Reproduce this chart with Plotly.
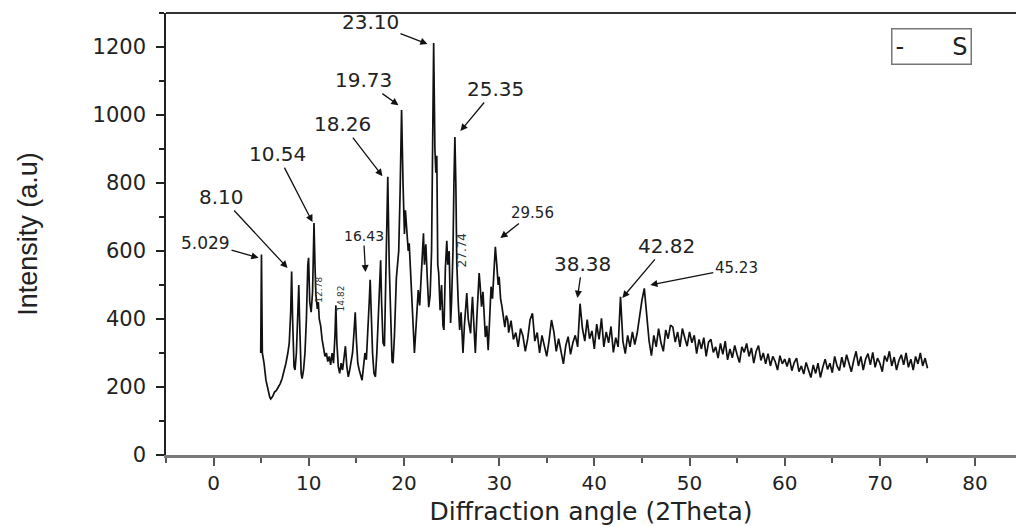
import plotly.graph_objects as go

# ---- data: peak-rich region (hand read, non-uniform angles) ----
angle_a = [4.95, 5.03, 5.12, 5.3, 5.5, 5.7, 5.9, 6.0, 6.2, 6.4, 6.6, 6.8, 7.0, 7.2, 7.4, 7.6, 7.8, 7.95,
           8.1, 8.2, 8.3, 8.45, 8.55, 8.7, 8.85, 8.95, 9.05, 9.2, 9.3, 9.45, 9.6, 9.75, 9.9, 9.98,
           10.1, 10.25, 10.4, 10.55, 10.65, 10.75, 10.9, 11.0, 11.1, 11.25, 11.4, 11.55, 11.7, 11.85,
           12.0, 12.15, 12.3, 12.45, 12.6, 12.75, 12.85, 12.95, 13.1, 13.25, 13.4, 13.55, 13.7, 13.85,
           14.0, 14.15, 14.3, 14.45, 14.6, 14.75, 14.88, 15.0, 15.15, 15.3, 15.45, 15.6, 15.75, 15.9,
           16.05, 16.2, 16.35, 16.45, 16.55, 16.7, 16.85, 17.0, 17.15, 17.3, 17.45, 17.55, 17.65, 17.8,
           17.95, 18.1, 18.3, 18.45, 18.6, 18.75, 18.85, 19.0, 19.2, 19.3, 19.45, 19.6, 19.75, 19.9,
           20.05, 20.15, 20.3, 20.45, 20.55, 20.7, 20.85, 21.0, 21.1, 21.25, 21.4, 21.5, 21.65, 21.8,
           21.95, 22.05, 22.15, 22.3, 22.45, 22.6, 22.75, 22.9, 23.0, 23.12, 23.25, 23.35, 23.45, 23.55,
           23.65, 23.8, 23.95, 24.1, 24.2, 24.35, 24.5, 24.6, 24.75, 24.9, 25.0, 25.15, 25.25, 25.35,
           25.45, 25.55, 25.7, 25.85, 26.0, 26.1, 26.2, 26.35, 26.5, 26.6, 26.75, 26.9, 27.0, 27.1,
           27.2, 27.35, 27.5, 27.65, 27.8, 27.9, 28.0, 28.15, 28.3, 28.45, 28.55, 28.7, 28.85, 29.0,
           29.15, 29.3, 29.45, 29.6, 29.75, 29.9, 30.0, 30.15, 30.3, 30.45, 30.6, 30.75, 30.9, 31.0]
intensity_a = [300, 590, 300, 270, 220, 190, 170, 165, 172, 185, 190, 200, 210, 225, 245, 270, 300, 330,
               420, 540, 400, 260, 250, 300, 420, 500, 380, 240, 225, 250, 300, 400, 560, 580,
               450, 420, 480, 682, 560, 470, 430, 450, 400, 380, 340, 310, 290, 300,
               275, 290, 265, 300, 270, 350, 440, 330, 260, 240, 270, 250, 280, 320,
               260, 230, 250, 280, 300, 360, 420, 340, 270, 250, 230, 220, 260, 300,
               280, 350, 450, 515, 420, 300, 240, 230, 300, 420, 500, 573, 450, 330,
               320, 500, 818, 560, 400, 275, 270, 350, 520, 565, 600, 780, 1015, 800,
               650, 720, 640, 600, 623, 520, 465, 360, 300, 380, 460, 485, 440, 520,
               600, 652, 560, 620, 520, 435, 470, 600, 880, 1212, 900, 830, 880, 560,
               535, 426, 500, 380, 368, 550, 630, 560, 600, 388, 450, 600, 800, 935,
               800, 565, 450, 368, 420, 330, 300, 380, 440, 476, 400, 380, 358, 420,
               465, 380, 300, 400, 480, 535, 500, 436, 480, 400, 347, 380, 308, 400,
               495, 460, 560, 612, 560, 500, 524, 460, 436, 400, 376, 410, 397, 360]

# ---- data: broad tail, read every 0.25 degree from 31.25 to 75.0 ----
tail_start = 31.25
tail_step = 0.25
intensity_b = [395, 340, 360, 318, 372, 350, 305, 342, 398, 417, 335, 360,
               300, 352, 318, 290, 338, 397, 362, 305, 342, 300, 268, 322,
               348, 296, 331, 352, 318, 445, 372, 335, 398, 342, 365, 312,
               385, 340, 402, 318, 362, 330, 378, 302, 345, 318, 465, 335,
               298, 352, 318, 362, 325, 358, 410, 455, 490, 418, 336, 292,
               352, 318, 372, 330, 305, 368, 342, 382, 376, 332, 362, 318,
               372, 345, 320, 362, 330, 352, 298, 340, 312, 345, 290, 332,
               340, 302, 318, 285, 328, 296, 335, 280, 312, 286, 322, 295,
               272, 318, 302, 328, 290, 315, 270, 305, 322, 278, 300, 268,
               298, 262, 290, 275, 250, 292, 268, 282, 260, 285, 248, 272,
               285, 245, 262, 238, 272, 250, 228, 265, 240, 270, 228, 258,
               282, 252, 270, 242, 290, 262, 248, 288, 258, 295, 270, 245,
               278, 305, 262, 290, 250, 282, 298, 265, 302, 258, 285, 270,
               245, 292, 275, 305, 262, 288, 250, 278, 295, 265, 300, 258,
               282, 250, 290, 268, 300, 262, 285, 255]
angle_b = [tail_start + tail_step * i for i in range(len(intensity_b))]

angles = angle_a + angle_b
intensities = intensity_a + intensity_b

# ---- peak labels: text, tip angle, tip intensity, text offset (px) ----
peak_labels = ["5.029", "8.10", "10.54", "18.26", "19.73", "23.10", "25.35",
               "16.43", "29.56", "38.38", "42.82", "45.23"]
peak_tip_x = [4.72, 7.77, 10.39, 17.74, 19.42, 22.47, 25.93, 15.96, 30.13, 38.22, 42.94, 45.88]
peak_tip_y = [580, 550, 685, 820, 1029, 1209, 953, 538, 638, 462, 462, 500]
label_dx = [-53, -66, -35, -40, -35, -57, 35, -2, 32, 5, 44, 86]
label_dy = [-15, -71, -68, -52, -25, -22, -42, -36, -25, -34, -52, -17]
label_size = [17, 20, 20, 20, 20, 20, 20, 14, 15, 20, 20, 15]

# rotated small labels
rot_labels = ["12.78", "14.82", "27.74"]
rot_x = [11.13, 13.33, 26.14]
rot_y = [485, 462, 603]
rot_size = [9, 9, 12]

x_ticks = [0, 10, 20, 30, 40, 50, 60, 70, 80]
y_ticks = [0, 200, 400, 600, 800, 1000, 1200]

FONT = "DejaVu Sans"

fig = go.Figure()
fig.add_trace(go.Scatter(x=angles, y=intensities, mode="lines", name="S",
                         line=dict(color="#111111", width=1.7), showlegend=False))

ann = []
for t, x, y, dx, dy, s in zip(peak_labels, peak_tip_x, peak_tip_y, label_dx, label_dy, label_size):
    ann.append(dict(x=x, y=y, xref="x", yref="y", text=t, showarrow=True,
                    ax=dx, ay=dy, arrowhead=2, arrowsize=1.1, arrowwidth=1.3,
                    arrowcolor="#111111", standoff=0,
                    font=dict(family=FONT, size=s, color="#222222")))
for t, x, y, s in zip(rot_labels, rot_x, rot_y, rot_size):
    ann.append(dict(x=x, y=y, xref="x", yref="y", text=t, showarrow=False,
                    textangle=-90, font=dict(family=FONT, size=s, color="#333333")))
# legend-like box
ann.append(dict(x=0.901, y=0.925, xref="paper", yref="paper", text="-\u2003\u2003S",
                showarrow=False, xanchor="center", yanchor="middle",
                bordercolor="#777777", borderwidth=1.5, borderpad=3,
                font=dict(family=FONT, size=24, color="#222222")))

fig.update_layout(
    width=1016, height=526,
    margin=dict(l=166, r=0, t=13, b=71),
    plot_bgcolor="white", paper_bgcolor="white",
    annotations=ann,
    shapes=[dict(type="line", xref="paper", yref="paper", x0=0, x1=1, y0=1, y1=1,
                 line=dict(color="#333333", width=2))],
    font=dict(family=FONT, color="#222222"),
    xaxis=dict(range=[-5, 84.3], tickvals=x_ticks, ticks="outside", ticklen=8, tickwidth=1.5,
               tickcolor="#555555", showline=True, linecolor="#7a7a7a", linewidth=2.5, mirror=False,
               showgrid=False, zeroline=False, automargin=False,
               minor=dict(dtick=5, tick0=0, ticks="outside", ticklen=5, tickcolor="#555555"),
               tickfont=dict(family=FONT, size=20, color="#222222"),
               title=dict(text="Diffraction angle (2Theta)", standoff=26,
                          font=dict(family=FONT, size=25, color="#222222"))),
    yaxis=dict(range=[0, 1300], tickvals=y_ticks, ticks="outside", ticklen=8, tickwidth=1.5,
               tickcolor="#222222", showline=True, linecolor="#222222", linewidth=1.5, mirror=False,
               showgrid=False, zeroline=False, automargin=False, ticklabelstandoff=6,
               minor=dict(dtick=100, tick0=0, ticks="outside", ticklen=5, tickcolor="#222222"),
               tickfont=dict(family=FONT, size=21, color="#222222"),
               title=dict(text="Intensity (a.u)", standoff=47,
                          font=dict(family="Liberation Sans Narrow, Liberation Sans", size=27,
                                    color="#222222"))),
)

fig.write_html("out.html", config={"displayModeBar": False},
               post_script="document.body.style.margin='0px';")
